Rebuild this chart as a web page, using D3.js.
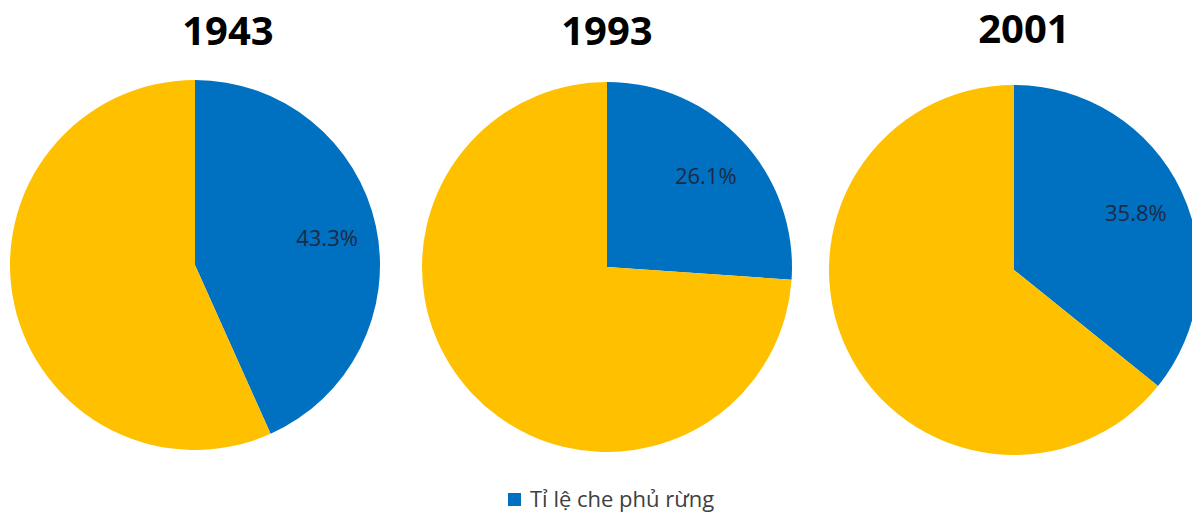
<!DOCTYPE html>
<html>
<head>
<meta charset="utf-8">
<script src="https://cdn.jsdelivr.net/npm/d3@7"></script>
<style>
	body { margin: 0; background: #fff; }
	svg { display: block; font-family: "Open Sans", "Noto Sans", sans-serif; }
</style>
</head>
<body>
<div id="chart"></div>
<script>
var years = ['1943', '1993', '2001'];
var forestCover = [43.3, 26.1, 35.8];
var legendLabel = 'Tỉ lệ che phủ rừng';

var width = 1192, height = 515;

var svg = d3.select('#chart')
	.append('svg')
	.attr('width', width)
	.attr('height', height);

// pie centres / titles
var centerX = { '1943': 195, '1993': 607, '2001': 1014 };
var centerY = { '1943': 265, '1993': 267, '2001': 270 };
var titleX = { '1943': 228, '1993': 607, '2001': 1024 };
var titleY = { '1943': 45, '1993': 45, '2001': 43 };
var radius = 185;

var color = d3.scaleOrdinal()
	.domain(['forest', 'other'])
	.range(['#0070c0', '#ffc000']);

var pie = d3.pie()
	.sort(null)
	.value(function(d) { return d.value; });

var arc = d3.arc().innerRadius(0).outerRadius(radius);
var labelArc = d3.arc().innerRadius(radius * 0.73).outerRadius(radius * 0.73);

years.forEach(function(year, i) {
	var g = svg.append('g')
		.attr('transform', 'translate(' + centerX[year] + ',' + centerY[year] + ')');

	var slices = pie([
		{ key: 'forest', value: forestCover[i] },
		{ key: 'other', value: 100 - forestCover[i] }
	]);

	g.selectAll('path')
		.data(slices)
		.enter()
		.append('path')
		.attr('d', arc)
		.attr('fill', function(d) { return color(d.data.key); });

	var c = labelArc.centroid(slices[0]);
	g.append('text')
		.attr('x', c[0])
		.attr('y', c[1])
		.attr('text-anchor', 'middle')
		.attr('dominant-baseline', 'central')
		.attr('font-size', 22)
		.attr('fill', '#1c2a44')
		.text(d3.format('.1f')(forestCover[i]) + '%');

	svg.append('text')
		.attr('x', titleX[year])
		.attr('y', titleY[year])
		.attr('text-anchor', 'middle')
		.attr('font-size', 40)
		.attr('font-weight', 'bold')
		.attr('fill', '#000')
		.text(year);
});

// legend
var legend = svg.append('g').attr('transform', 'translate(508,493)');
legend.append('rect')
	.attr('width', 13)
	.attr('height', 13)
	.attr('fill', color('forest'));
legend.append('text')
	.attr('x', 22)
	.attr('y', 14)
	.attr('font-size', 22)
	.attr('fill', '#404040')
	.text(legendLabel);
</script>
</body>
</html>
